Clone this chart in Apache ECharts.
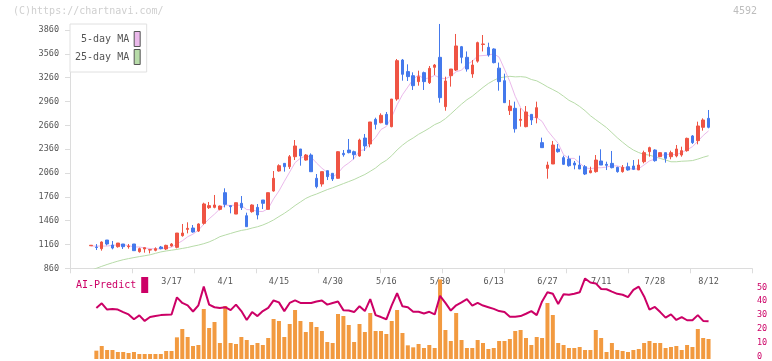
<!DOCTYPE html>
<html><head><meta charset="utf-8">
<script src="https://cdn.jsdelivr.net/npm/echarts@6/dist/echarts.min.js"></script>
<style>html,body{margin:0;padding:0;background:#fff}#c{width:772px;height:361px}</style>
</head><body><div id="c"></div>
<script>
// ---- data (trading day index 0 = 2/21 ... 115 = 8/12) ----
const opens = [1144,1128,1107,1216,1153,1132,1166,1132,1166,1069, 1103,1090,1086,1128,1103,1141,1124,1271,1350,1367, 1329,1426,1623,1627,1602,1812,1648,1543,1678,1522, 1573,1627,1720,1602,1833,2085,2181,2139,2265,2362, 2223,2286,1993,1921,2089,2056,1993,2307,2349,2328, 2274,2500,2425,2735,2693,2798,2643,2991,3482,3336, 3285,3210,3323,3197,3390,3516,2895,3285,3356,3650, 3516,3306,3468,3678,3642,3621,3380,3222,2845,2874, 2723,2643,2798,2756,2442,2118,2173,2362,2253,2236, 2185,2160,2139,2064,2077,2211,2169,2181,2131,2077, 2139,2148,2098,2202,2328,2349,2265,2316,2265,2274, 2286,2341,2526,2467,2635,2748];
const closes = [1150,1122,1191,1166,1115,1178,1132,1140,1082,1107, 1120,1095,1107,1107,1149,1166,1304,1304,1363,1317, 1418,1670,1649,1657,1644,1665,1636,1686,1623,1384, 1657,1531,1678,1812,1993,2152,2139,2265,2400,2274, 2286,2076,1888,2077,2014,1984,2328,2290,2316,2290, 2475,2400,2702,2672,2786,2672,2991,3474,3302,3273, 3159,3273,3210,3377,3419,3008,3218,3369,3659,3516, 3369,3419,3701,3684,3545,3449,3210,2945,2903,2616, 2735,2828,2727,2882,2379,2160,2412,2328,2169,2152, 2160,2110,2047,2089,2223,2160,2156,2127,2077,2131, 2098,2106,2160,2316,2379,2215,2316,2244,2316,2362, 2341,2496,2442,2652,2727,2635];
const highs = [1150,1165,1199,1216,1204,1178,1166,1166,1166,1120, 1120,1095,1124,1141,1157,1178,1304,1418,1439,1405, 1426,1686,1695,1783,1650,1867,1648,1686,1770,1560, 1665,1669,1720,1812,2085,2169,2181,2286,2475,2362, 2299,2307,2047,2077,2089,2056,2333,2349,2488,2341, 2492,2551,2702,2756,2811,2828,2991,3495,3495,3428, 3327,3348,3336,3407,3432,3936,3272,3369,3810,3659, 3590,3482,3713,3797,3700,3629,3450,3310,2979,2958, 2874,2903,2798,2958,2505,2202,2463,2425,2278,2278, 2211,2278,2160,2139,2286,2358,2202,2337,2139,2160, 2190,2223,2232,2341,2391,2358,2320,2316,2341,2412, 2391,2505,2538,2706,2748,2853];
const lows = [1144,1090,1082,1149,1099,1120,1103,1107,1082,1057, 1057,1048,1074,1099,1090,1132,1111,1258,1300,1308, 1317,1409,1607,1615,1590,1627,1552,1543,1594,1384, 1560,1476,1606,1602,1825,2077,2077,2110,2223,2152, 2215,2076,1867,1888,1971,1959,1988,2265,2307,2232, 2265,2337,2383,2609,2685,2672,2635,2970,3222,3218, 3105,3159,3105,3180,3293,2945,2844,3147,3344,3440, 3336,3258,3449,3590,3524,3440,3096,2945,2790,2568, 2643,2635,2664,2685,2379,1988,2173,2316,2160,2139, 2106,2110,2034,2056,2064,2160,2097,2118,2064,2064, 2089,2097,2098,2181,2265,2202,2260,2190,2232,2257, 2265,2328,2425,2421,2593,2622];
// moving-average values before enough closes are visible
const ma5Head = [1140,1140,1140,1140];
const ma25Head = [835,860,885,908,930,950,968,982,995,1007,1018,1030,1048,1066,1078,1088,1098,1110,1122,1138,1152,1170,1192,1222];
// lower panel
const aiPredict = [null,35.1,38.4,33.9,34.4,33.9,32.1,30.4,26.9,29.7, 25.7,28.5,29.2,29.9,30.2,30.4,42.7,38.7,37.0,32.5, 37.0,50.5,37.5,35.6,35.1,35.6,33.5,37.5,32.8,26.4, 32.1,29.2,32.8,35.1,40.5,39.1,32.8,38.7,40.5,38.7, 38.7,38.7,39.8,40.5,37.5,38.7,39.8,33.5,33.2,32.1, 36.3,32.8,41.5,29.9,28.5,26.9,37.0,45.7,36.3,35.6, 32.3,32.3,31.1,32.3,30.4,43.8,38.7,33.2,37.0,39.1, 41.5,36.8,38.7,36.8,35.6,34.4,32.8,32.1,28.8,28.8, 29.2,30.9,32.8,29.9,39.8,46.4,45.3,37.9,45.0,44.6, 45.3,46.4,56.4,53.5,52.8,48.8,48.6,46.9,45.3,44.6, 42.9,48.1,50.5,43.4,33.9,35.8,32.1,28.1,30.4,26.4, 28.5,26.2,26.2,29.9,25.7,25.5];
const volumes = [null,25,39,27,27,21,21,18,21,15, 15,15,15,15,24,24,65,90,66,39, 42,150,93,111,48,159,48,45,66,57, 42,48,42,63,120,114,66,105,147,114, 81,111,96,84,51,48,135,129,102,51, 105,81,138,84,84,75,114,147,78,41, 35,45,33,42,33,239,87,54,138,57, 33,33,57,48,30,33,54,54,60,84, 87,63,42,66,63,168,132,48,42,33, 33,36,27,27,87,63,21,48,27,24, 21,27,30,48,54,48,48,33,36,39, 27,42,36,90,63,60];
// axis labels
const dateLabelIdx = [15,25,35,45,55,65,75,85,95,105,115];
const dateLabels = ['3/17','4/1','4/15','4/30','5/16','5/30','6/13','6/27','7/11','7/28','8/12'];
const priceTicks = [860,1160,1460,1760,2060,2360,2660,2960,3260,3560,3860];
const aiTicks = [0,10,20,30,40,50];

function movingAvg(n, head) {
  return closes.map((c, i) => {
    if (i < n - 1) return head[i];
    let s = 0;
    for (let k = i - n + 1; k <= i; k++) s += closes[k];
    return Math.round(s / n);
  });
}
const ma5 = movingAvg(5, ma5Head);
const ma25 = movingAvg(25, ma25Head);

const FONT = "'DejaVu Sans Mono', monospace";
const RED = '#ef5444', BLUE = '#4479ec';
const XMIN = -3.91, XMAX = 123.09;

const chart = echarts.init(document.getElementById('c'), null, {renderer: 'canvas'});
chart.setOption({
  animation: false,
  backgroundColor: '#fff',
  title: [
    {text: '(C)https://chartnavi.com/', left: 13, top: 6, padding: 0,
     textStyle: {color: '#cfcfcf', fontSize: 10, fontWeight: 'normal', fontFamily: FONT}},
    {text: '4592', right: 15, top: 6, padding: 0,
     textStyle: {color: '#bdbdbd', fontSize: 10, fontWeight: 'normal', fontFamily: FONT}}
  ],
  legend: [
    {data: ['5-day MA', '25-day MA'], orient: 'vertical', left: 70, top: 24, align: 'right',
     icon: 'rect', itemWidth: 6, itemHeight: 15, itemGap: 2, padding: [7, 6, 7, 5],
     borderColor: '#e0e0e0', borderWidth: 1, backgroundColor: '#fff', selectedMode: false,
     itemStyle: {borderColor: '#555', borderWidth: 1},
     textStyle: {color: '#555', fontSize: 10, fontFamily: FONT}},
    {data: ['AI-Predict'], orient: 'vertical', left: 76, top: 277, align: 'right',
     icon: 'rect', itemWidth: 7, itemHeight: 16, padding: 0, selectedMode: false,
     textStyle: {color: '#cc0066', fontSize: 10, fontFamily: FONT}}
  ],
  grid: [
    {left: 70, width: 682, top: 30, height: 238.3},
    {left: 70, width: 682, top: 287.3, height: 70.7},
    {left: 70, width: 682, top: 279, height: 80}
  ],
  xAxis: [
    {gridIndex: 0, type: 'value', min: XMIN, max: XMAX, position: 'bottom',
     axisLine: {show: false, onZero: false}, axisTick: {show: false}, splitLine: {show: false},
     axisLabel: {customValues: dateLabelIdx, formatter: v => dateLabels[dateLabelIdx.indexOf(v)] || '',
       color: '#555', fontSize: 8.5, fontFamily: FONT, margin: 9}},
    {gridIndex: 0, type: 'value', min: 0, max: 11, interval: 1, position: 'bottom',
     axisLine: {show: true, onZero: false, lineStyle: {color: '#dcdcdc', width: 1}},
     axisTick: {show: true, length: 5, lineStyle: {color: '#dcdcdc'}},
     axisLabel: {show: false}, splitLine: {show: false}},
    {gridIndex: 1, type: 'value', min: XMIN, max: XMAX, show: false},
    {gridIndex: 2, type: 'value', min: XMIN, max: XMAX, show: false}
  ],
  yAxis: [
    {gridIndex: 0, type: 'value', min: 860, max: 3860, interval: 300, position: 'left',
     axisLine: {show: true, onZero: false, lineStyle: {color: '#dcdcdc'}},
     axisTick: {show: true, length: 5, customValues: priceTicks, lineStyle: {color: '#dcdcdc'}},
     axisLabel: {customValues: priceTicks, formatter: v => String(v),
       color: '#555', fontSize: 8.5, fontFamily: FONT, margin: 11},
     splitLine: {show: false}},
    {gridIndex: 1, type: 'value', min: 0, max: 50, interval: 10, position: 'right',
     axisLine: {show: false, onZero: false}, axisTick: {show: false}, splitLine: {show: false},
     axisLabel: {customValues: aiTicks, formatter: v => String(v),
       color: '#cc0066', fontSize: 8.5, fontFamily: FONT, margin: 5}},
    {gridIndex: 2, type: 'value', min: 0, max: 240, show: false}
  ],
  series: [
    {name: '25-day MA', type: 'line', xAxisIndex: 0, yAxisIndex: 0, z: 1,
     data: ma25.map((v, i) => [i, v]), showSymbol: false, symbol: 'none', clip: true,
     color: '#b7dba8', itemStyle: {color: '#b7dba8'}, lineStyle: {color: '#b7dba8', width: 1}},
    {name: '5-day MA', type: 'line', xAxisIndex: 0, yAxisIndex: 0, z: 1,
     data: ma5.map((v, i) => [i, v]), showSymbol: false, symbol: 'none', clip: true,
     color: '#ebb9eb', itemStyle: {color: '#ebb9eb'}, lineStyle: {color: '#ebb9eb', width: 1}},
    {name: 'Price', type: 'candlestick', xAxisIndex: 0, yAxisIndex: 0, z: 3, clip: false,
     barWidth: 3,
     data: opens.map((o, i) => [i, o, closes[i], lows[i], highs[i]]),
     encode: {x: 0, y: [1, 2, 3, 4]},
     itemStyle: {color: RED, color0: BLUE, borderColor: RED, borderColor0: BLUE, borderWidth: 1}},
    {name: 'Volume', type: 'bar', xAxisIndex: 3, yAxisIndex: 2, z: 1, barWidth: 4,
     data: volumes.map((v, i) => [i, v]), itemStyle: {color: '#f29a40'}},
    {name: 'AI-Predict', type: 'line', xAxisIndex: 2, yAxisIndex: 1, z: 4, clip: false,
     data: aiPredict.map((v, i) => [i, v]), showSymbol: false, symbol: 'none',
     color: '#cc0066', itemStyle: {color: '#cc0066'}, lineStyle: {color: '#cc0066', width: 2}}
  ]
});
</script>
</body></html>
